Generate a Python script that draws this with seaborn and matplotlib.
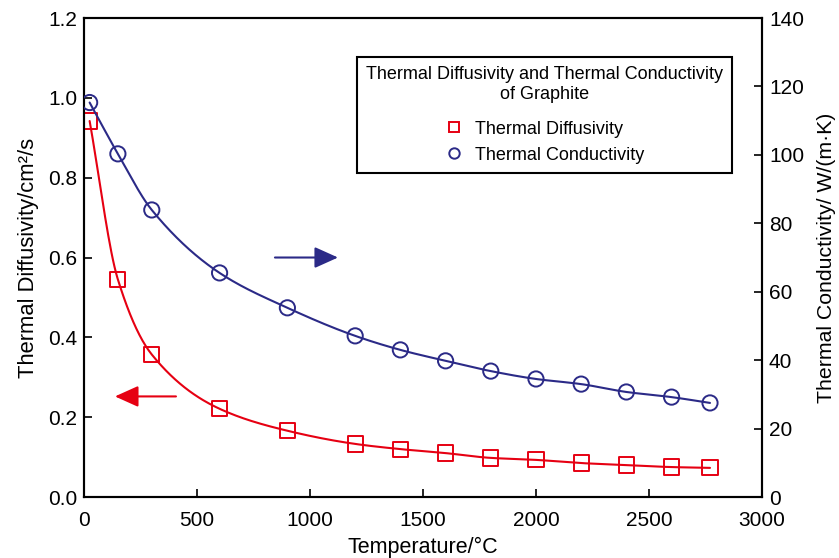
import numpy as np
import pandas as pd
import matplotlib
matplotlib.use("Agg")
import matplotlib.pyplot as plt
import seaborn as sns
from matplotlib.lines import Line2D

# ---- data ----
temperature = [25, 150, 300, 600, 900, 1200, 1400, 1600, 1800, 2000, 2200, 2400, 2600, 2770]
diffusivity = [0.942, 0.545, 0.357, 0.221, 0.166, 0.133, 0.120, 0.110, 0.098, 0.093, 0.085, 0.080, 0.075, 0.073]
conductivity = [115.3, 100.3, 83.9, 65.5, 55.3, 47.1, 43.0, 39.8, 36.8, 34.5, 33.0, 30.7, 29.2, 27.5]

x_ticks = [0, 500, 1000, 1500, 2000, 2500, 3000]
left_ticks = [0.0, 0.2, 0.4, 0.6, 0.8, 1.0, 1.2]
right_ticks = [0, 20, 40, 60, 80, 100, 120, 140]

legend_title = "Thermal Diffusivity and Thermal Conductivity\nof Graphite"
label_diff = "Thermal Diffusivity"
label_cond = "Thermal Conductivity"

RED = "#e60012"
BLUE = "#2b2a87"


def smooth(x, y, n=400):
    """Monotone cubic (Fritsch-Carlson) curve through the points, for drawing only."""
    x = np.asarray(x, float)
    y = np.asarray(y, float)
    h = np.diff(x)
    d = np.diff(y) / h
    m = np.zeros_like(y)
    m[0], m[-1] = d[0], d[-1]
    for i in range(1, len(y) - 1):
        if d[i - 1] * d[i] <= 0:
            m[i] = 0
        else:
            w1 = 2 * h[i] + h[i - 1]
            w2 = h[i] + 2 * h[i - 1]
            m[i] = (w1 + w2) / (w1 / d[i - 1] + w2 / d[i])
    xs = np.linspace(x[0], x[-1], n)
    idx = np.clip(np.searchsorted(x, xs) - 1, 0, len(x) - 2)
    t = (xs - x[idx]) / h[idx]
    h00 = 2 * t**3 - 3 * t**2 + 1
    h10 = t**3 - 2 * t**2 + t
    h01 = -2 * t**3 + 3 * t**2
    h11 = t**3 - t**2
    ys = h00 * y[idx] + h10 * h[idx] * m[idx] + h01 * y[idx + 1] + h11 * h[idx] * m[idx + 1]
    return xs, ys


sns.set_style("ticks")
plt.rcParams["font.family"] = ["Liberation Sans", "DejaVu Sans"]
plt.rcParams["text.color"] = "black"
plt.rcParams["axes.labelcolor"] = "black"
plt.rcParams["xtick.color"] = "black"
plt.rcParams["ytick.color"] = "black"

fig = plt.figure(figsize=(8.39, 5.58), dpi=100)
ax = fig.add_axes([0.1001, 0.1093, 0.8081, 0.8584])
ax2 = ax.twinx()

df = pd.DataFrame({"T": temperature, "D": diffusivity, "K": conductivity})
xs, yd = smooth(temperature, diffusivity)
_, yk = smooth(temperature, conductivity)
sm = pd.DataFrame({"T": xs, "D": yd, "K": yk})

sns.lineplot(data=sm, x="T", y="D", ax=ax, color=RED, lw=1.5, sort=False)
sns.scatterplot(data=df, x="T", y="D", ax=ax, marker="s", s=120,
                facecolor="none", edgecolor=RED, linewidth=1.4, zorder=3)
sns.lineplot(data=sm, x="T", y="K", ax=ax2, color=BLUE, lw=1.5, sort=False)
sns.scatterplot(data=df, x="T", y="K", ax=ax2, marker="o", s=120,
                facecolor="none", edgecolor=BLUE, linewidth=1.4, zorder=3)

ax.set_xlim(0, 3000)
ax.set_ylim(0, 1.2)
ax2.set_ylim(0, 140)
ax.set_xticks(x_ticks)
ax.set_xticklabels([str(v) for v in x_ticks])
ax.set_yticks(left_ticks)
ax.set_yticklabels([f"{v:.1f}" for v in left_ticks])
ax2.set_yticks(right_ticks)
ax2.set_yticklabels([str(v) for v in right_ticks])

fs = 15
ax.tick_params(axis="both", direction="in", length=6, width=1.2, labelsize=fs,
               colors="black", labelcolor="black", pad=5)
ax.tick_params(axis="x", pad=10)
ax2.tick_params(axis="y", direction="in", length=6, width=1.2, labelsize=fs,
                colors="black", labelcolor="black", pad=5)
for a in (ax, ax2):
    for s in a.spines.values():
        s.set_linewidth(1.5)
        s.set_color("black")
        s.set_visible(True)

ax.set_xlabel("Temperature/°C", fontsize=15.5, labelpad=5, color="black")
ax.set_ylabel("Thermal Diffusivity/cm²/s", fontsize=15.8, labelpad=6, color="black")
ax2.set_ylabel("Thermal Conductivity/ W/(m·K)", fontsize=15.3, labelpad=9, color="black")

# arrows
ax.annotate("", xy=(1124, 0.60), xytext=(845, 0.60),
            arrowprops=dict(arrowstyle="-|>,head_length=0.8,head_width=0.36", color=BLUE,
                            lw=1.5, mutation_scale=18, shrinkA=0, shrinkB=0))
ax.annotate("", xy=(137, 0.252), xytext=(407, 0.252),
            arrowprops=dict(arrowstyle="-|>,head_length=0.8,head_width=0.36", color=RED,
                            lw=1.5, mutation_scale=18, shrinkA=0, shrinkB=0))

handles = [
    Line2D([], [], ls="none", marker="s", markersize=7.5, markerfacecolor="none",
           markeredgecolor=RED, markeredgewidth=1.4, label=label_diff),
    Line2D([], [], ls="none", marker="o", markersize=7.5, markerfacecolor="none",
           markeredgecolor=BLUE, markeredgewidth=1.4, label=label_cond),
]
leg = ax2.legend(handles=handles, title=legend_title, loc="upper left",
                 bbox_to_anchor=(357 / 839, 1 - 57 / 558), bbox_transform=fig.transFigure,
                 frameon=True, fancybox=False, framealpha=1, edgecolor="black",
                 fontsize=13, title_fontsize=13, handletextpad=0.7, handlelength=1.0,
                 borderpad=0.5, labelspacing=0.5, alignment="center", borderaxespad=0)
leg.get_frame().set_linewidth(1.5)
leg.get_title().set_multialignment("center")
leg.get_title().set_color("black")
for t in leg.get_texts():
    t.set_color("black")
leg._legend_box.sep = 13

fig.savefig("out.png", dpi=100)
